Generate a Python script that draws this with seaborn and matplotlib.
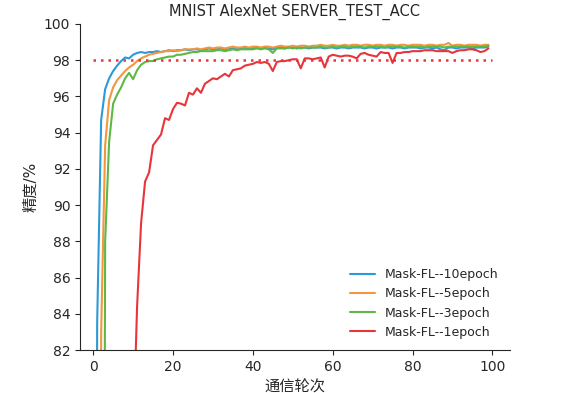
import numpy as np
import pandas as pd
import matplotlib
matplotlib.use("Agg")
import matplotlib.pyplot as plt
import seaborn as sns

rounds = list(range(100))

acc_10epoch = [10.0, 83.5, 94.7, 96.4, 97.0, 97.4, 97.7, 97.95, 98.15, 98.1,
               98.3, 98.4, 98.45, 98.4, 98.45, 98.45, 98.5, 98.45, 98.5, 98.55,
               98.5, 98.55, 98.55, 98.6, 98.55, 98.6, 98.6, 98.55, 98.6, 98.65,
               98.6, 98.6, 98.65, 98.6, 98.65, 98.65, 98.6, 98.65, 98.7, 98.65,
               98.65, 98.7, 98.65, 98.7, 98.65, 98.6, 98.7, 98.7, 98.65, 98.7,
               98.7, 98.65, 98.7, 98.7, 98.65, 98.7, 98.7, 98.7, 98.65, 98.7,
               98.7, 98.65, 98.7, 98.7, 98.65, 98.7, 98.7, 98.7, 98.65, 98.7,
               98.7, 98.65, 98.7, 98.7, 98.7, 98.65, 98.7, 98.7, 98.65, 98.7,
               98.7, 98.7, 98.65, 98.7, 98.7, 98.65, 98.7, 98.6, 98.55, 98.7,
               98.7, 98.65, 98.7, 98.7, 98.7, 98.65, 98.7, 98.7, 98.7, 98.75]

acc_5epoch = [10.0, 11.0, 83.0, 93.3, 95.8, 96.5, 96.9, 97.15, 97.4, 97.6,
              97.75, 97.95, 98.1, 98.2, 98.3, 98.35, 98.4, 98.45, 98.5, 98.5,
              98.55, 98.5, 98.55, 98.6, 98.6, 98.6, 98.65, 98.6, 98.65, 98.7,
              98.65, 98.7, 98.7, 98.65, 98.7, 98.75, 98.7, 98.7, 98.75, 98.7,
              98.75, 98.75, 98.7, 98.75, 98.75, 98.7, 98.75, 98.8, 98.75, 98.75,
              98.8, 98.75, 98.8, 98.8, 98.75, 98.8, 98.8, 98.85, 98.8, 98.8,
              98.85, 98.8, 98.8, 98.85, 98.8, 98.85, 98.85, 98.8, 98.85, 98.85,
              98.8, 98.85, 98.85, 98.8, 98.85, 98.85, 98.8, 98.85, 98.85, 98.8,
              98.85, 98.85, 98.85, 98.8, 98.85, 98.85, 98.8, 98.85, 98.85, 98.95,
              98.8, 98.85, 98.85, 98.8, 98.85, 98.85, 98.85, 98.8, 98.85, 98.85]

acc_3epoch = [10.0, 11.0, 12.0, 88.0, 93.5, 95.6, 96.1, 96.5, 97.0, 97.3,
              96.95, 97.45, 97.75, 97.9, 97.95, 97.95, 98.05, 98.1, 98.15, 98.2,
              98.2, 98.3, 98.3, 98.35, 98.4, 98.45, 98.45, 98.5, 98.5, 98.5,
              98.5, 98.55, 98.55, 98.5, 98.55, 98.6, 98.55, 98.6, 98.6, 98.6,
              98.6, 98.65, 98.6, 98.65, 98.6, 98.4, 98.65, 98.65, 98.65, 98.7,
              98.65, 98.7, 98.65, 98.7, 98.7, 98.7, 98.7, 98.75, 98.7, 98.7,
              98.75, 98.7, 98.75, 98.75, 98.7, 98.75, 98.75, 98.75, 98.7, 98.75,
              98.75, 98.75, 98.75, 98.7, 98.75, 98.75, 98.75, 98.75, 98.7, 98.75,
              98.75, 98.75, 98.75, 98.7, 98.75, 98.75, 98.75, 98.75, 98.7, 98.75,
              98.75, 98.75, 98.75, 98.75, 98.75, 98.75, 98.75, 98.75, 98.75, 98.8]

acc_1epoch = [10.3, 11.4, 11.4, 13.0, 20.5, 32.8, 45.1, 55.6, 64.2, 71.5,
              77.0, 84.4, 89.0, 91.3, 91.8, 93.3, 93.6, 93.9, 94.8, 94.7,
              95.3, 95.65, 95.6, 95.5, 96.2, 96.1, 96.45, 96.2, 96.7, 96.85,
              97.0, 96.95, 97.1, 97.25, 97.1, 97.45, 97.5, 97.55, 97.7, 97.75,
              97.8, 97.9, 97.85, 97.9, 97.8, 97.4, 97.9, 97.95, 97.95, 98.0,
              98.05, 98.05, 97.55, 98.1, 98.1, 98.05, 98.1, 98.15, 97.6, 98.2,
              98.3, 98.25, 98.2, 98.25, 98.25, 98.2, 98.1, 98.35, 98.4, 98.3,
              98.25, 98.2, 98.45, 98.4, 98.4, 97.85, 98.4, 98.4, 98.45, 98.45,
              98.5, 98.5, 98.5, 98.55, 98.55, 98.55, 98.5, 98.5, 98.5, 98.5,
              98.4, 98.5, 98.55, 98.55, 98.6, 98.6, 98.55, 98.45, 98.5, 98.65]

series_names = ["Mask-FL--10epoch", "Mask-FL--5epoch", "Mask-FL--3epoch", "Mask-FL--1epoch"]
target_acc = 98.0
y_ticks = [82, 84, 86, 88, 90, 92, 94, 96, 98, 100]
x_ticks = [0, 20, 40, 60, 80, 100]

colors = ["#2b9ad8", "#f5953e", "#5db845", "#e8353b"]

df = pd.concat([
    pd.DataFrame({"round": rounds, "acc": vals, "series": name})
    for name, vals in zip(series_names, [acc_10epoch, acc_5epoch, acc_3epoch, acc_1epoch])
], ignore_index=True)

sns.set_style("ticks")
plt.rcParams["font.family"] = ["DejaVu Sans", "Noto Sans CJK SC"]

fig = plt.figure(figsize=(5.61, 3.93), dpi=100)
ax = fig.add_axes([0.1426, 0.1094, 0.7664, 0.8296])

sns.lineplot(data=df, x="round", y="acc", hue="series", hue_order=series_names,
             palette=colors, linewidth=1.5, ax=ax)

ax.hlines(target_acc, 0, 100, colors="#e8353b", linestyles=(0, (1, 2)), linewidth=1.8)

ax.set_xlim(-3.3, 104.4)
ax.set_ylim(82, 100)
ax.set_yticks(y_ticks)
ax.set_xticks(x_ticks)
ax.tick_params(labelsize=10)
ax.set_title("MNIST AlexNet SERVER_TEST_ACC", fontsize=10.5)
ax.set_xlabel("通信轮次", fontsize=11)
ax.set_ylabel("精度/%", fontsize=11)
sns.despine(ax=ax)

leg = ax.legend(loc="lower right", frameon=False, fontsize=9)
for line in leg.get_lines():
    line.set_linewidth(1.5)

fig.savefig("out.png", dpi=100)
